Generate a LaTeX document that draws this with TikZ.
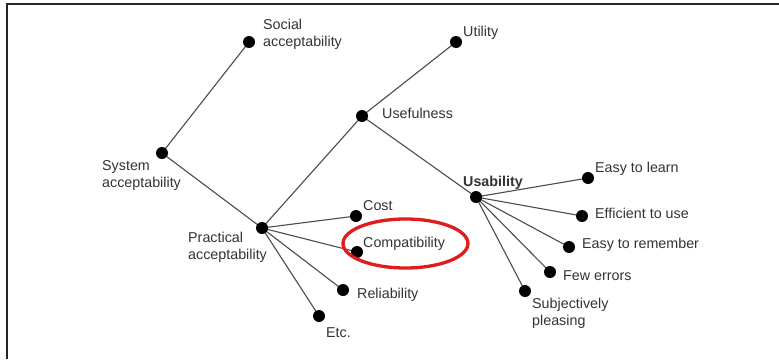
\documentclass[tikz,border=0pt]{standalone}
\usepackage{fontspec}
\setmainfont{Liberation Sans}
\begin{document}
\begin{tikzpicture}[x=1pt,y=-1pt,
  dot/.style={circle,fill=black,inner sep=0pt,minimum size=12pt},
  lbl/.style={anchor=base west,inner sep=0pt,align=left,text=black!80,font=\fontsize{14.3}{16.5}\selectfont},
  conn/.style={draw=black!70,line width=1.1pt}]
\useasboundingbox (0,0) rectangle (779,359);
\fill[white] (0,0) rectangle (779,359);
\draw[line width=2.2pt,black!85] (7,359) -- (7,4) -- (779,4);
% connector end points (dots)
\coordinate (soc) at (249,42);
\coordinate (sys) at (162,153);
\coordinate (pra) at (262,228);
\coordinate (use) at (362,116);
\coordinate (uti) at (456,42);
\coordinate (usa) at (476,197);
\coordinate (cos) at (356,216);
\coordinate (com) at (357,252);
\coordinate (rel) at (343,290);
\coordinate (etc) at (319,316);
\coordinate (eal) at (588,178);
\coordinate (eff) at (582,216);
\coordinate (ear) at (569,247);
\coordinate (few) at (550,272);
\coordinate (sub) at (525,291);
% connectors
\draw[conn] (sys) -- (soc);
\draw[conn] (sys) -- (pra);
\draw[conn] (pra) -- (use);
\draw[conn] (use) -- (uti);
\draw[conn] (use) -- (usa);
\draw[conn] (pra) -- (cos);
\draw[conn] (pra) -- (com);
\draw[conn] (pra) -- (rel);
\draw[conn] (pra) -- (etc);
\draw[conn] (usa) -- (eal);
\draw[conn] (usa) -- (eff);
\draw[conn] (usa) -- (ear);
\draw[conn] (usa) -- (few);
\draw[conn] (usa) -- (sub);
% dots
\foreach \n in {soc,sys,pra,use,uti,usa,cos,com,rel,etc,eal,eff,ear,few,sub}
  \node[dot] (d\n) at (\n) {};
% labels
\node[lbl] (tsoc) at (263,46) {Social\\acceptability};
\node[lbl] (tsys) at (102,187) {System\\acceptability};
\node[lbl] (tpra) at (188,259) {Practical\\acceptability};
\node[lbl] (tuse) at (382,118) {Usefulness};
\node[lbl] (tuti) at (463,36) {Utility};
\node[lbl,font=\fontsize{14.3}{16.5}\selectfont\bfseries] (tusa) at (463,186) {Usability};
\node[lbl] (tcos) at (363,210) {Cost};
\node[lbl] (tcom) at (363,247) {Compatibility};
\node[lbl] (trel) at (357,298) {Reliability};
\node[lbl] (tetc) at (326,337) {Etc.};
\node[lbl] (teal) at (595,172) {Easy to learn};
\node[lbl] (teff) at (595,218) {Efficient to use};
\node[lbl] (tear) at (582,248) {Easy to remember};
\node[lbl] (tfew) at (563,280) {Few errors};
\node[lbl] (tsub) at (532,325) {Subjectively\\pleasing};
% highlight
\draw[line width=3.3pt,color={rgb,255:red,224;green,28;blue,28}] (405.5,243.5) ellipse (62.5 and 24.5);
\end{tikzpicture}
\end{document}
